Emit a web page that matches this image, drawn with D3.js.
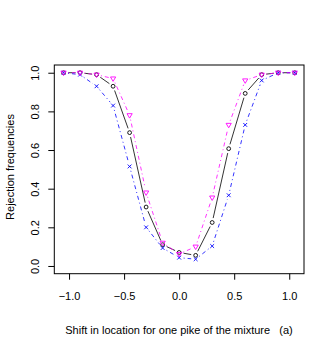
<!DOCTYPE html>
<html>
<head>
<meta charset="utf-8">
<script src="https://cdn.jsdelivr.net/npm/d3@7"></script>
<style>
  body { margin: 0; background: #fff; }
  svg { display: block; font-family: "Liberation Sans", Arial, sans-serif; }
</style>
</head>
<body>
<svg id="chart" width="332" height="354"></svg>
<script>
const shifts = [-1.05, -0.9, -0.75, -0.6, -0.45, -0.3, -0.15, 0, 0.15, 0.3, 0.45, 0.6, 0.75, 0.9, 1.05];
const blackVals = [1.0, 1.0, 0.99, 0.93, 0.69, 0.305, 0.11, 0.07, 0.055, 0.225, 0.607, 0.893, 0.99, 1.0, 1.0];
const magentaVals = [1.0, 1.0, 0.99, 0.97, 0.78, 0.38, 0.12, 0.062, 0.10, 0.354, 0.73, 0.96, 0.99, 1.0, 1.0];
const blueVals = [1.0, 0.99, 0.93, 0.83, 0.515, 0.20, 0.093, 0.043, 0.035, 0.103, 0.366, 0.73, 0.96, 1.0, 1.0];
const xTicks = [-1, -0.5, 0, 0.5, 1];
const yTicks = [0, 0.2, 0.4, 0.6, 0.8, 1.0];

const svg = d3.select('#chart');
const plotL = 54.3, plotR = 304, plotT = 65, plotB = 273.7;

const x = d3.scaleLinear().domain([-1.134, 1.134]).range([plotL, plotR]);
const y = d3.scaleLinear().domain([-0.04, 1.04]).range([plotB, plotT]);

const series = [
  { vals: blackVals, color: '#000000', dash: null, shape: 'circle' },
  { vals: blueVals, color: '#0000ff', dash: '1,3,4,3', shape: 'cross' },
  { vals: magentaVals, color: '#ff00ff', dash: '1,3,4,3', shape: 'tri' }
];

// lines with gaps around the points (like R type = "b")
const gap = 4.5;
series.forEach(s => {
  const pts = shifts.map((d, i) => [x(d), y(s.vals[i])]);
  const g = svg.append('g');
  for (let i = 0; i < pts.length - 1; i++) {
    const [x0, y0] = pts[i], [x1, y1] = pts[i + 1];
    const len = Math.hypot(x1 - x0, y1 - y0);
    if (len <= 2 * gap) continue;
    const ux = (x1 - x0) / len, uy = (y1 - y0) / len;
    g.append('line')
      .attr('x1', x0 + ux * gap).attr('y1', y0 + uy * gap)
      .attr('x2', x1 - ux * gap).attr('y2', y1 - uy * gap)
      .attr('stroke', s.color)
      .attr('stroke-width', 0.8)
      .attr('stroke-dasharray', s.dash);
  }
});

// points
series.forEach(s => {
  const g = svg.append('g').attr('fill', 'none').attr('stroke', s.color).attr('stroke-width', 0.9);
  shifts.forEach((d, i) => {
    const px = x(d), py = y(s.vals[i]);
    if (s.shape === 'circle') {
      g.append('circle').attr('cx', px).attr('cy', py).attr('r', 1.9);
    } else if (s.shape === 'cross') {
      const r = 1.9;
      g.append('path').attr('d', `M${px - r},${py - r}L${px + r},${py + r}M${px - r},${py + r}L${px + r},${py - r}`);
    } else {
      const r = 2.6;
      g.append('path').attr('d', `M${px - r},${py - r * 0.6}L${px + r},${py - r * 0.6}L${px},${py + r * 1.1}Z`);
    }
  });
});

// box
svg.append('rect')
  .attr('x', plotL).attr('y', plotT)
  .attr('width', plotR - plotL).attr('height', plotB - plotT)
  .attr('fill', 'none').attr('stroke', '#000').attr('stroke-width', 1);

// x axis
const xAxis = svg.append('g')
  .attr('transform', `translate(0,${plotB})`)
  .call(d3.axisBottom(x).tickValues(xTicks).tickFormat(d3.format('.1f')).tickSize(6).tickPadding(13).tickSizeOuter(0));
xAxis.select('.domain').remove();
xAxis.selectAll('text').attr('font-size', 11).attr('fill', '#000').attr('font-family', '"Liberation Sans", Arial, sans-serif');

// y axis
const yAxis = svg.append('g')
  .attr('transform', `translate(${plotL},0)`)
  .call(d3.axisLeft(y).tickValues(yTicks).tickFormat(d3.format('.1f')).tickSize(6).tickSizeOuter(0));
yAxis.select('.domain').remove();
yAxis.selectAll('text')
  .attr('font-size', 11).attr('fill', '#000').attr('font-family', '"Liberation Sans", Arial, sans-serif')
  .attr('text-anchor', 'middle')
  .attr('transform', 'rotate(-90)')
  .attr('x', 0).attr('y', -15).attr('dy', 0);

// titles
svg.append('text')
  .attr('x', 179).attr('y', 334)
  .attr('text-anchor', 'middle')
  .attr('font-size', 11)
  .style('white-space', 'pre')
  .text('Shift in location for one pike of the mixture   (a)');

svg.append('text')
  .attr('transform', 'translate(13.5,167) rotate(-90)')
  .attr('text-anchor', 'middle')
  .attr('font-size', 11)
  .text('Rejection frequencies');
</script>
</body>
</html>
